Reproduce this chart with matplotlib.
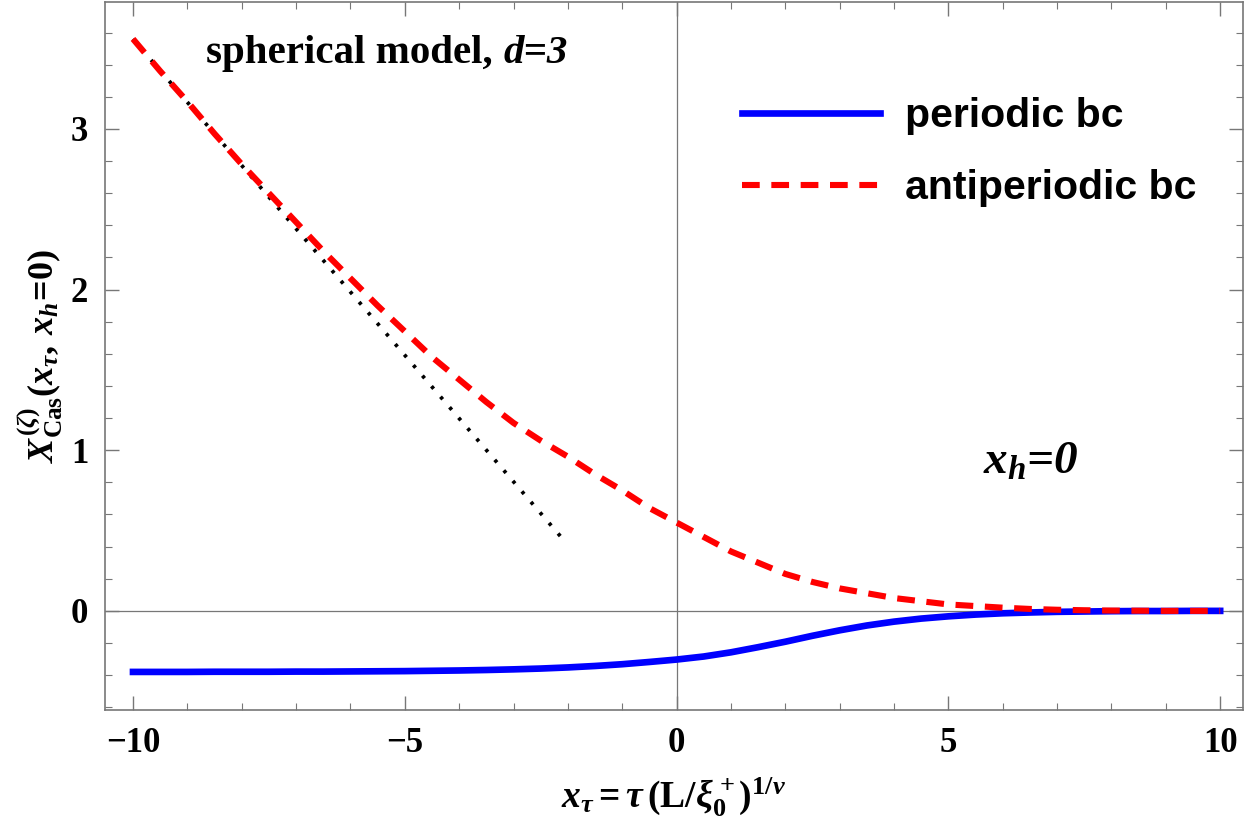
import numpy as np
import matplotlib
matplotlib.use("Agg")
import matplotlib.pyplot as plt
from matplotlib.ticker import MultipleLocator

# Data
x = np.arange(-10, 10.01, 0.5)
periodic = [-0.380, -0.380, -0.380, -0.379, -0.379, -0.379, -0.378, -0.378, -0.377,
            -0.376, -0.375, -0.373, -0.371, -0.368, -0.364, -0.359, -0.352, -0.343,
            -0.332, -0.318, -0.303, -0.284, -0.258, -0.226, -0.192, -0.155, -0.121,
            -0.091, -0.067, -0.048, -0.034, -0.023, -0.015, -0.010, -0.006, -0.004,
            -0.002, -0.001, -0.001, 0.0, 0.0]
antiperiodic = [3.56, 3.36, 3.17, 2.97, 2.78, 2.60, 2.42, 2.24, 2.07, 1.90, 1.74,
                1.58, 1.44, 1.30, 1.17, 1.06, 0.96, 0.85, 0.75, 0.64, 0.55, 0.46,
                0.37, 0.30, 0.23, 0.18, 0.14, 0.11, 0.08, 0.06, 0.04, 0.03, 0.02,
                0.012, 0.007, 0.004, 0.002, 0.001, 0.0, 0.0, 0.0]
# asymptote (straight dotted line)
asym_x = [-10.0, -2.1]
asym_y = [3.56, 0.45]

plt.rcParams['mathtext.fontset'] = 'custom'
plt.rcParams['mathtext.rm'] = 'Liberation Serif:bold'
plt.rcParams['mathtext.bf'] = 'Liberation Serif:bold'
plt.rcParams['mathtext.it'] = 'Liberation Serif:bold:italic'

fig = plt.figure(figsize=(12.6, 8.4), dpi=100)
ax = fig.add_axes([105/1260, 130/840, 1138/1260, 708/840])

grey = '#777777'
ax.axhline(0, color=grey, lw=0.9, zorder=1)
ax.axvline(0, color=grey, lw=0.9, zorder=1)

ax.plot(asym_x, asym_y, color='black', lw=2.7, linestyle=(0, (0.9, 2.8)), zorder=2)
ax.plot(x, periodic, color='#0000ff', lw=4.8, label='periodic bc', zorder=3)
ax.plot(x, antiperiodic, color='#ff0000', lw=4.4, linestyle=(0, (2.9, 1.9)),
        label='antiperiodic bc', zorder=4)

ax.set_xlim(-10.515, 10.42)
ax.set_ylim(-0.617, 3.79)
ax.xaxis.set_major_locator(MultipleLocator(5))
ax.xaxis.set_minor_locator(MultipleLocator(1))
ax.yaxis.set_major_locator(MultipleLocator(1))
ax.yaxis.set_minor_locator(MultipleLocator(0.2))
ax.tick_params(which='both', direction='in', top=True, right=True, color=grey,
               labelsize=25, pad=12)
ax.tick_params(which='major', length=10, width=1)
ax.tick_params(which='minor', length=5, width=0.8)
for lab in ax.get_xticklabels() + ax.get_yticklabels():
    lab.set_family('Liberation Serif')
    lab.set_weight('bold')
for s in ax.spines.values():
    s.set_color(grey)
    s.set_linewidth(1.2)

ax.set_xlabel(r'$x_\tau = \tau\,(\mathrm{L}/\xi_0^+)^{1/\nu}$', fontsize=27, labelpad=12)
ax.set_ylabel(r'$X^{(\zeta)}_{\mathrm{Cas}}(x_\tau,\,x_h\!=\!0)$', fontsize=26, labelpad=4)

t1 = ax.text(-8.65, 3.41, 'spherical model, ', fontsize=29.5,
             family='Liberation Serif', weight='bold', va='baseline', ha='left')
ax.annotate('d=3', xy=(1, 0), xycoords=t1, va='bottom', ha='left', fontsize=29.5,
            family='Liberation Serif', weight='bold', style='italic')
ax.text(6.52, 0.92, r'$x_h$=0', fontsize=34, family='Liberation Serif',
        weight='bold', style='italic', ha='center', va='center')

leg = ax.legend(loc='upper left', bbox_to_anchor=(742/1260, 1 - 97/840),
                bbox_transform=fig.transFigure, frameon=False,
                prop={'family': 'Liberation Sans', 'weight': 'bold', 'size': 29.5},
                handlelength=3.37, handletextpad=0.61, labelspacing=0.84,
                borderpad=0, borderaxespad=0)

plt.savefig('out.png', dpi=100)
